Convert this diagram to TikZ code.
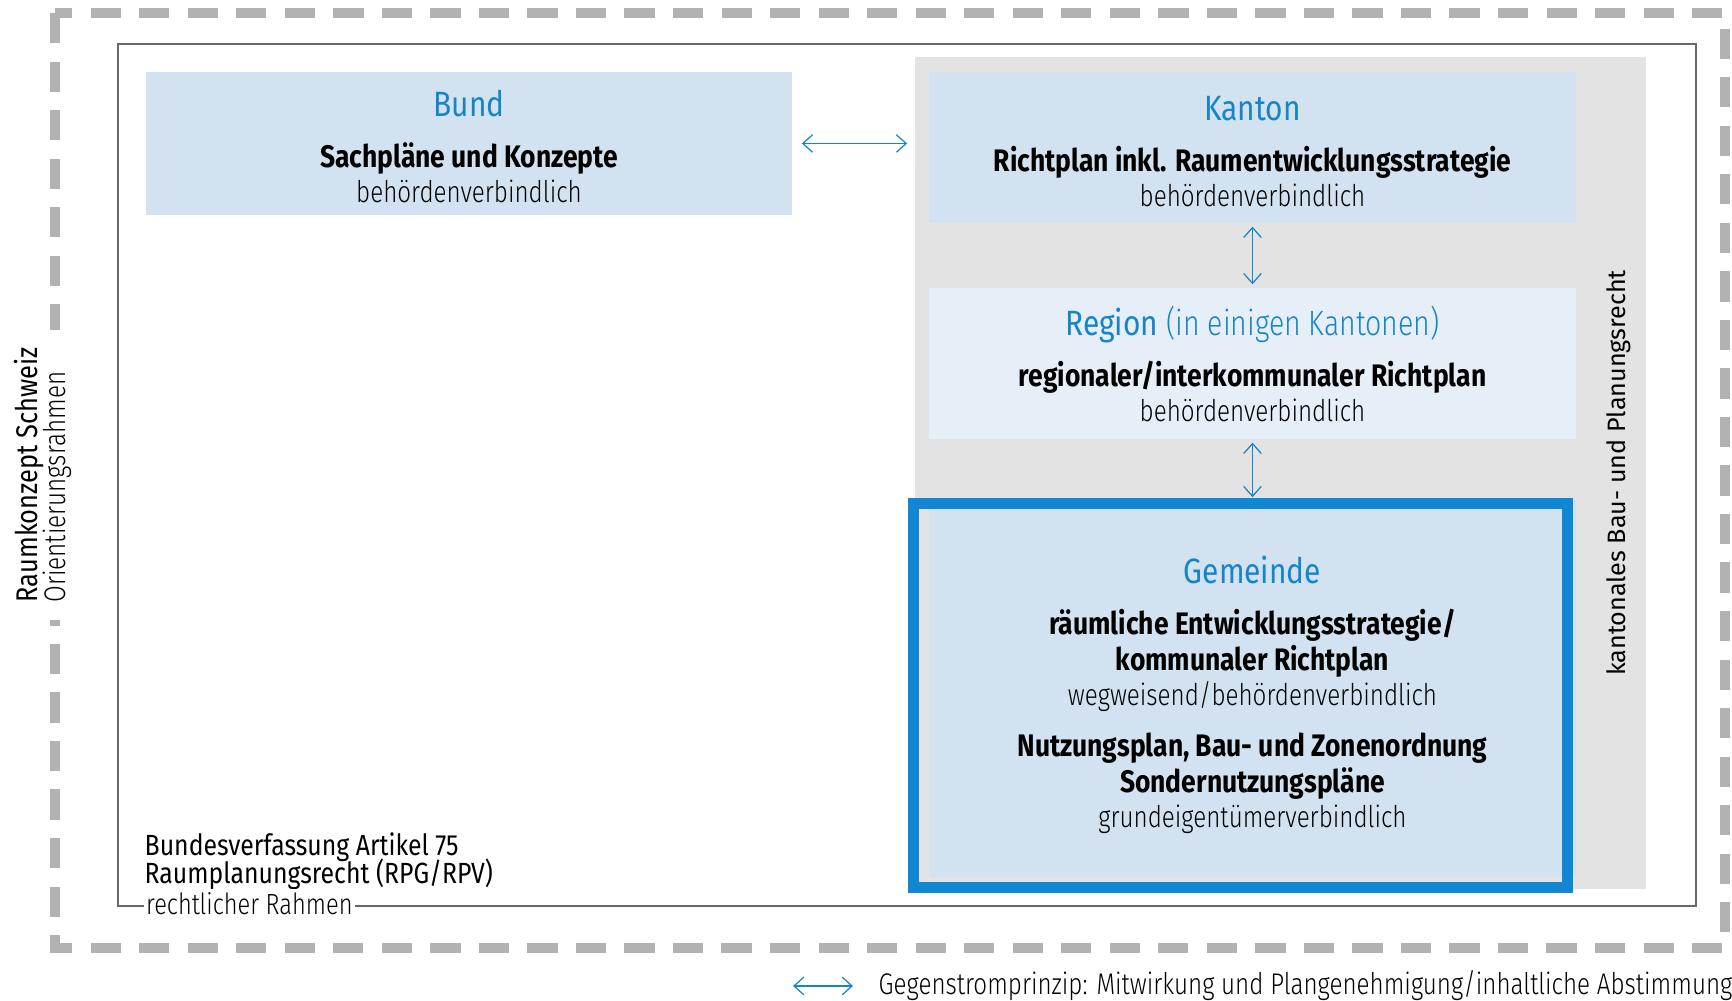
\documentclass[tikz,border=0pt]{standalone}
\usepackage{fontspec}
\setmainfont{Fira Sans}[FakeStretch=0.85]
\newfontfamily\lightfont{Fira Sans Light}[FakeStretch=0.81]
\newfontfamily\widefont{Fira Sans}
\usetikzlibrary{
  positioning,
  calc,
  arrows.meta}
\definecolor{levelcolor}{RGB}{211,226,240}
\definecolor{regioncolor}{RGB}{230,239,248}
\definecolor{kantonalcolor}{RGB}{227,227,227}
\definecolor{titlecolor}{RGB}{22,133,200}
\definecolor{gemeindecolor}{RGB}{17,135,212}
\definecolor{orientcolor}{RGB}{178,178,178}
\definecolor{rahmencolor}{RGB}{105,105,105}
\newcommand{\leveltitle}[2][9.3pt]{%
  {\fontsize{10}{10}\selectfont\color{titlecolor}\rule{0pt}{#1}#2}}
\newcommand{\plan}[1]{{\fontsize{8.85}{10}\selectfont\bfseries #1}}
\newcommand{\binding}[1]{{\lightfont #1}}
\newcommand{\tightlines}{\lineskiplimit=-5pt\relax}
\tikzset{
  %% level : one planning level (Bund, Kanton, Region, Gemeinde)
  level/.style={
    rectangle,
    fill=levelcolor,
    minimum width=6.47cm,
    minimum height=1.51cm,
    inner sep=0pt,
    align=center,
    font=\fontsize{8.5}{10}\selectfont
  },
  %% kantonal : grey panel of the cantonal law
  kantonal/.style={
    rectangle,
    fill=kantonalcolor,
    minimum width=7.31cm,
    minimum height=8.32cm,
    inner sep=0pt
  },
  %% gegen : Gegenstrom arrow
  gegen/.style={
    titlecolor,
    line width=0.35pt,
    {Straight Barb[length=2.8pt,width=5pt]}-{Straight Barb[length=2.8pt,width=5pt]}
  },
  %% sidetext : plain text around the frames
  sidetext/.style={
    inner sep=0pt,
    font=\fontsize{8.3}{10}\selectfont
  },
  %% orient : dashed frame (Raumkonzept)
  orient/.style={orientcolor, line width=2.9pt, dash pattern=on 8.6pt off 5.2pt},
  %% rahmen : legal frame
  rahmen/.style={rahmencolor, line width=0.45pt}
}

\begin{document}
\begin{tikzpicture}
  [x=0.01cm,
  y=-0.01cm]
  \useasboundingbox (0,0) rectangle (1732,1001);

  %% Frames
  \draw [orient] (55,13) rectangle (1725,948);
  \draw [rahmen] (118,44) rectangle (1696,906);

  \node (raumkonzept) [sidetext, rotate=90, fill=white, inner xsep=5pt,
    inner ysep=2pt, align=left,
    font=\fontsize{8.5}{8}\selectfont\tightlines] at (43,475) {%
    Raumkonzept Schweiz\\
    {\lightfont Orientierungsrahmen}
  };

  %% Levels
  \node (kantonal) [kantonal] at (1280.5,473) {};

  \node (bund) [level, minimum width=6.46cm, minimum height=1.43cm]
  at (469,143.5) {%
    \leveltitle{Bund}\\[4.5pt]
    \plan{Sachpläne und Konzepte}\\
    \binding{behördenverbindlich}
  };

  \node (kanton) [level] at (1252.5,147.5) {%
    \leveltitle{Kanton}\\[4.5pt]
    \plan{Richtplan inkl. Raumentwicklungsstrategie}\\
    \binding{behördenverbindlich}
  };

  \node (region) [level, fill=regioncolor] at (1252.5,363.5) {%
    \leveltitle[8.4pt]{Region {\lightfont (in einigen Kantonen)}}\\[4.5pt]
    \plan{regionaler/interkommunaler Richtplan}\\
    \binding{behördenverbindlich}
  };

  \node (gemeinde) [level, minimum height=3.77cm] at (1252.5,688.5) {%
    \leveltitle[11.5pt]{Gemeinde}\\[4.5pt]
    \plan{räumliche Entwicklungsstrategie/}\\
    \plan{kommunaler Richtplan}\\
    \binding{wegweisend/behördenverbindlich}\\[4.7pt]
    \plan{Nutzungsplan, Bau- und Zonenordnung}\\
    \plan{Sondernutzungspläne}\\
    \binding{grundeigentümerverbindlich}
  };

  %% Connections
  \draw [gegen, shorten <=0.09cm, shorten >=0.07cm]
  (bund.east) -- (bund.east -| kantonal.west);
  \draw [gegen, shorten <=0.03cm, shorten >=0.03cm] (kanton) -- (region);
  \draw [gegen, shorten <=0.03cm, shorten >=0.02cm] (region) -- (gemeinde);

  %% Frame of the Gemeinde
  \draw [gemeindecolor, line width=3.13pt] (913.5,503.5) rectangle (1567.5,887.5);

  \node (baurecht) [sidetext, rotate=90, anchor=base,
    font=\widefont\fontsize{7.15}{9}\selectfont] at (1625,473) {%
    kantonales Bau- und Planungsrecht};

  %% Legal frame texts
  \node (verfassung) [sidetext, anchor=base west] at (144,856) {%
    Bundesverfassung Artikel 75};
  \node (rpg) [sidetext, anchor=base west] at (144,884) {%
    Raumplanungsrecht (RPG/RPV)};
  \node (rechtlich) [sidetext, anchor=west, fill=white, inner xsep=0.7pt,
    inner ysep=1pt] at (143,904) {\lightfont rechtlicher Rahmen};

  %% Legend
  \coordinate (legstart) at (793,986);
  \coordinate (legend) at (853,986);
  \draw [gegen] (legstart) -- (legend);
  \node (legtext) [sidetext, right=0.25cm of legend,
    font=\fontsize{8.5}{10}\selectfont] {%
    \lightfont Gegenstromprinzip: Mitwirkung und
    Plangenehmigung/inhaltliche Abstimmung};

\end{tikzpicture}
\end{document}
